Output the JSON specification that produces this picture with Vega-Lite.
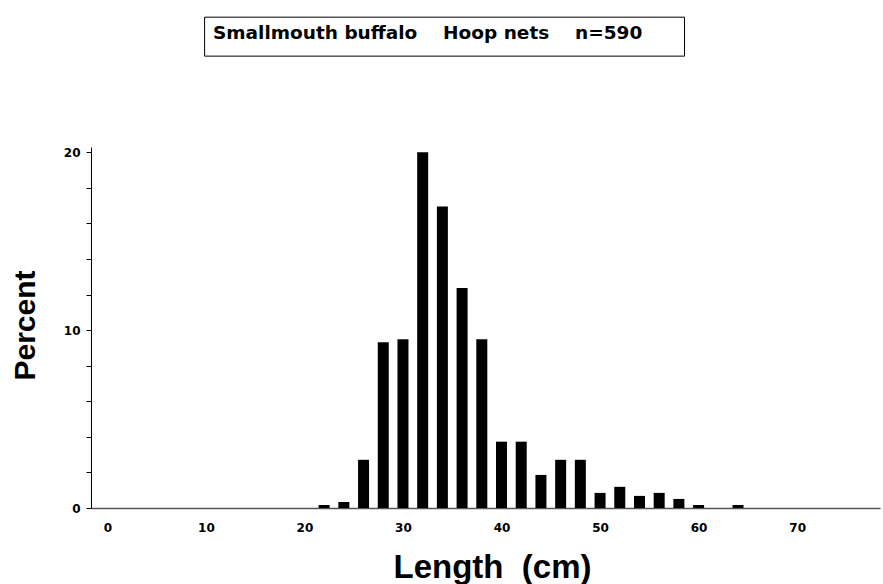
{
  "$schema": "https://vega.github.io/schema/vega-lite/v6.json",
  "width": 789,
  "height": 361,
  "autosize": "none",
  "padding": {"left": 91, "top": 147, "right": 3, "bottom": 76},
  "background": "white",
  "config": {"view": {"stroke": null}},
  "title": {
    "text": "Smallmouth buffalo\u00a0\u00a0\u00a0\u00a0Hoop nets\u00a0\u00a0\u00a0\u00a0n=590",
    "font": "DejaVu Sans",
    "fontSize": 18.5,
    "fontWeight": "bold",
    "color": "black",
    "anchor": "start",
    "frame": "group",
    "baseline": "alphabetic",
    "dx": 122,
    "dy": 41,
    "offset": 0
  },
  "data": {
    "values": [
      {"length": 22, "percent": 0.17},
      {"length": 24, "percent": 0.34},
      {"length": 26, "percent": 2.71},
      {"length": 28, "percent": 9.32},
      {"length": 30, "percent": 9.49},
      {"length": 32, "percent": 20.0},
      {"length": 34, "percent": 16.95},
      {"length": 36, "percent": 12.37},
      {"length": 38, "percent": 9.49},
      {"length": 40, "percent": 3.73},
      {"length": 42, "percent": 3.73},
      {"length": 44, "percent": 1.86},
      {"length": 46, "percent": 2.71},
      {"length": 48, "percent": 2.71},
      {"length": 50, "percent": 0.85},
      {"length": 52, "percent": 1.19},
      {"length": 54, "percent": 0.68},
      {"length": 56, "percent": 0.85},
      {"length": 58, "percent": 0.51},
      {"length": 60, "percent": 0.17},
      {"length": 64, "percent": 0.17}
    ]
  },
  "layer": [
    {
      "mark": {"type": "bar", "size": 11, "color": "black"},
      "encoding": {
        "x": {
          "field": "length",
          "type": "quantitative",
          "scale": {"domain": [-1.15, 77.9], "nice": false, "zero": false},
          "axis": {
            "values": [0, 10, 20, 30, 40, 50, 60, 70],
            "tickCount": 20,
            "ticks": false,
            "grid": false,
            "labelPadding": 14,
            "labelFont": "DejaVu Sans",
            "labelFontSize": 12,
            "labelFontWeight": "bold",
            "labelColor": "black",
            "domainColor": "#555555",
            "domainWidth": 1.5,
            "title": "Length\u00a0\u00a0(cm)",
            "titleFont": "Liberation Sans",
            "titleFontSize": 33,
            "titleFontWeight": "bold",
            "titleColor": "black",
            "titleX": 401,
            "titleY": 69,
            "titleAlign": "center",
            "titleBaseline": "alphabetic"
          }
        },
        "y": {
          "field": "percent",
          "type": "quantitative",
          "scale": {"domain": [0, 20.3], "nice": false},
          "axis": {
            "values": [0, 2, 4, 6, 8, 10, 12, 14, 16, 18, 20],
            "tickCount": 20,
            "labelExpr": "datum.value % 10 === 0 ? datum.label : ''",
            "tickSize": 5,
            "tickColor": "black",
            "domainColor": "black",
            "grid": false,
            "labelPadding": 6,
            "labelFont": "DejaVu Sans",
            "labelFontSize": 12,
            "labelFontWeight": "bold",
            "labelColor": "black",
            "title": "Percent",
            "titleFont": "Liberation Sans",
            "titleFontSize": 30,
            "titleFontWeight": "bold",
            "titleColor": "black",
            "titleAngle": -90,
            "titleX": -57,
            "titleY": 178,
            "titleAlign": "center",
            "titleBaseline": "alphabetic"
          }
        }
      }
    },
    {
      "data": {"values": [{"box": "title"}]},
      "mark": {"type": "rect", "fill": null, "stroke": "black", "strokeWidth": 1},
      "encoding": {
        "x": {"datum": 9.87, "type": "quantitative"},
        "x2": {"datum": 58.57},
        "y": {"datum": 27.6, "type": "quantitative"},
        "y2": {"datum": 25.41}
      }
    }
  ]
}
